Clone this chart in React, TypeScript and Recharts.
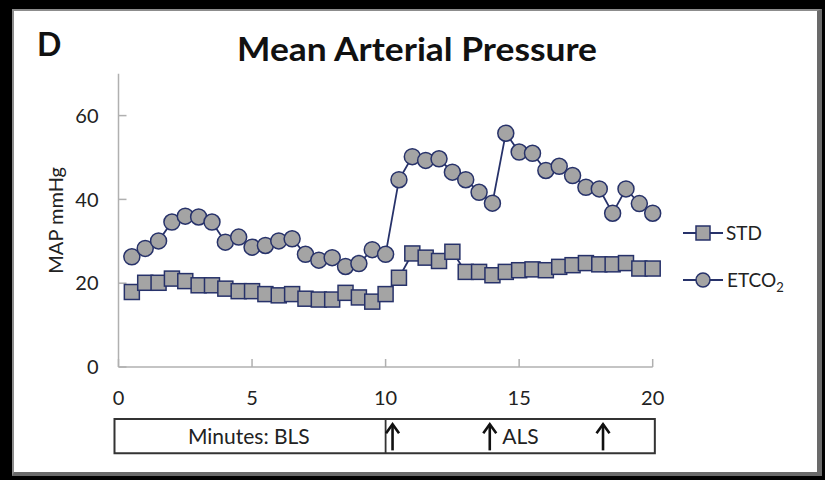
import React from 'react';
import {
  LineChart,
  Line,
  XAxis,
  YAxis,
  ReferenceArea,
  ReferenceLine,
  ReferenceDot,
} from 'recharts';

// Time points (minutes of resuscitation)
const minutes = [
  0.5, 1, 1.5, 2, 2.5, 3, 3.5, 4, 4.5, 5,
  5.5, 6, 6.5, 7, 7.5, 8, 8.5, 9, 9.5, 10,
  10.5, 11, 11.5, 12, 12.5, 13, 13.5, 14, 14.5, 15,
  15.5, 16, 16.5, 17, 17.5, 18, 18.5, 19, 19.5, 20,
];

// Mean arterial pressure, standard CPR group (mmHg)
const stdMap = [
  17.9, 20.1, 20.1, 21.1, 20.5, 19.5, 19.5, 18.7, 18.1, 18.1,
  17.4, 17.1, 17.4, 16.3, 16.1, 16.1, 17.7, 16.6, 15.6, 17.4,
  21.3, 27.1, 26.1, 25.3, 27.5, 22.7, 22.7, 21.9, 22.7, 23.1,
  23.3, 23.1, 23.9, 24.3, 24.8, 24.5, 24.5, 24.8, 23.5, 23.5,
];

// Mean arterial pressure, ETCO2-guided group (mmHg)
const etco2Map = [
  26.3, 28.3, 30.1, 34.6, 36.0, 35.8, 34.6, 29.8, 31.0, 28.6,
  29.0, 30.1, 30.6, 26.9, 25.5, 26.1, 24.0, 24.7, 28.0, 26.9,
  44.7, 50.2, 49.3, 49.7, 46.5, 44.7, 41.7, 39.1, 55.8, 51.3,
  51.0, 46.9, 47.9, 45.7, 42.9, 42.5, 36.7, 42.5, 39.0, 36.7,
];

const xTicks = [0, 5, 10, 15, 20];
const yTicks = [0, 20, 40, 60];

// Timeline strip below the axis
const blsEnd = 10;
const alsArrows = [10.26, 13.9, 18.14];
const stripLabels = [
  { x: 4.88, text: 'Minutes: BLS' },
  { x: 15.05, text: 'ALS' },
];

const data = minutes.map((m, i) => ({
  minute: m,
  std: stdMap[i],
  etco2: etco2Map[i],
}));

const FONT = 'Lato, "Open Sans", sans-serif';
const NAVY = '#27326a';
const MARKER_FILL = '#a4a4a4';
const TEXT = '#222';

const STRIP_TOP = -12.4;
const STRIP_BOTTOM = -20.6;
const STRIP_MID = -16.6;

const SquareDot = (props: any) => {
  const { cx, cy, index } = props;
  if (cx == null || cy == null) return <g key={index} />;
  return (
    <rect
      key={index}
      x={cx - 7.5}
      y={cy - 7.5}
      width={15}
      height={15}
      fill={MARKER_FILL}
      stroke={NAVY}
      strokeWidth={1.5}
    />
  );
};

const CircleDot = (props: any) => {
  const { cx, cy, index } = props;
  if (cx == null || cy == null) return <g key={index} />;
  return (
    <circle
      key={index}
      cx={cx}
      cy={cy}
      r={8}
      fill={MARKER_FILL}
      stroke={NAVY}
      strokeWidth={1.5}
    />
  );
};

const ArrowShape = (props: any) => {
  const { x1, y1, x2, y2 } = props;
  const top = Math.min(y1, y2);
  const bottom = Math.max(y1, y2);
  const x = (x1 + x2) / 2;
  return (
    <g>
      <line x1={x} y1={top + 1} x2={x} y2={bottom} stroke="#111" strokeWidth={2.6} />
      <path
        d={`M ${x - 6.5} ${top + 10} L ${x} ${top + 1} L ${x + 6.5} ${top + 10}`}
        fill="none"
        stroke="#111"
        strokeWidth={2.6}
      />
    </g>
  );
};

// Series key drawn beside the plot
const SeriesKey = () => (
  <g transform="translate(680,220)" fontFamily={FONT} fontSize={19} fill={TEXT}>
    <line x1={3} y1={13} x2={43} y2={13} stroke={NAVY} strokeWidth={1.8} />
    <rect x={16} y={6} width={14} height={14} fill={MARKER_FILL} stroke={NAVY} strokeWidth={1.5} />
    <text x={46} y={20}>STD</text>
    <line x1={3} y1={60} x2={43} y2={60} stroke={NAVY} strokeWidth={1.8} />
    <circle cx={23} cy={60} r={7} fill={MARKER_FILL} stroke={NAVY} strokeWidth={1.5} />
    <text x={47} y={67}>
      ETCO<tspan dy={5} fontSize={13}>2</tspan>
    </text>
  </g>
);

export default function App() {
  return (
    <div style={{ position: 'relative', width: 825, height: 480, background: '#000' }}>
      <style>{'body{margin:0;background:#000;}'}</style>
      <div
        style={{
          position: 'absolute',
          left: 12,
          top: 9,
          width: 803,
          height: 461,
          background: '#fff',
          borderTop: '2px solid #8c8c8c',
          borderLeft: '2px solid #8c8c8c',
          borderRight: '5px solid #6a6a6a',
          borderBottom: '4px solid #6a6a6a',
        }}
      />
      <div style={{ position: 'absolute', left: 0, top: 0 }}>
        <LineChart
          width={825}
          height={480}
          data={data}
          margin={{ top: 73.7, right: 172.3, left: 40, bottom: 73 }}
        >
          <XAxis
            dataKey="minute"
            type="number"
            domain={[0, 20]}
            ticks={xTicks}
            height={40}
            axisLine={{ stroke: '#b0b0b0', strokeWidth: 1.5 }}
            tickLine={{ stroke: '#b0b0b0', strokeWidth: 1.5 }}
            tickSize={-8}
            tickMargin={32}
            tick={{ fill: TEXT, fontSize: 20, fontFamily: FONT }}
          />
          <YAxis
            type="number"
            domain={[0, 70]}
            ticks={yTicks}
            width={78.5}
            axisLine={{ stroke: '#b0b0b0', strokeWidth: 1.5 }}
            tickLine={{ stroke: '#b0b0b0', strokeWidth: 1.5 }}
            tickSize={-8}
            tickMargin={28}
            tick={{ fill: TEXT, fontSize: 20, fontFamily: FONT }}
            label={{
              value: 'MAP mmHg',
              angle: -90,
              position: 'insideLeft',
              offset: 16,
              style: { textAnchor: 'middle', fill: TEXT, fontSize: 20, fontFamily: FONT },
            }}
          />
          <Line
            dataKey="std"
            name="STD"
            type="linear"
            stroke={NAVY}
            strokeWidth={1.8}
            dot={SquareDot}
            activeDot={false}
            isAnimationActive={false}
          />
          <Line
            dataKey="etco2"
            name="ETCO2"
            type="linear"
            stroke={NAVY}
            strokeWidth={1.8}
            dot={CircleDot}
            activeDot={false}
            isAnimationActive={false}
          />
          <ReferenceArea
            x1={-0.15}
            x2={20.08}
            y1={STRIP_BOTTOM}
            y2={STRIP_TOP}
            fill="#fff"
            fillOpacity={1}
            stroke="#333"
            strokeWidth={2}
            ifOverflow="visible"
          />
          <ReferenceLine
            segment={[
              { x: blsEnd, y: STRIP_TOP },
              { x: blsEnd, y: STRIP_BOTTOM },
            ]}
            stroke="#333"
            strokeWidth={1.8}
            ifOverflow="visible"
          />
          {alsArrows.map((a) => (
            <ReferenceLine
              key={a}
              segment={[
                { x: a, y: STRIP_TOP - 1.0 },
                { x: a, y: STRIP_BOTTOM + 0.7 },
              ]}
              shape={ArrowShape}
              ifOverflow="visible"
            />
          ))}
          {stripLabels.map((l) => (
            <ReferenceDot
              key={l.text}
              x={l.x}
              y={STRIP_MID}
              r={0}
              fill="none"
              stroke="none"
              ifOverflow="visible"
              label={{
                value: l.text,
                position: 'center',
                fill: TEXT,
                fontSize: 21,
                fontFamily: FONT,
              }}
            />
          ))}
        </LineChart>
      </div>
      <svg
        width={825}
        height={480}
        style={{ position: 'absolute', left: 0, top: 0, pointerEvents: 'none' }}
      >
        <text x={37} y={56} fontFamily={FONT} fontWeight="bold" fontSize={32} fill="#111">
          D
        </text>
        <text
          x={417}
          y={61}
          textAnchor="middle"
          fontFamily={FONT}
          fontWeight="bold"
          fontSize={32}
          fill="#111"
          textLength={360}
          lengthAdjust="spacingAndGlyphs"
        >
          Mean Arterial Pressure
        </text>
        <SeriesKey />
      </svg>
    </div>
  );
}
